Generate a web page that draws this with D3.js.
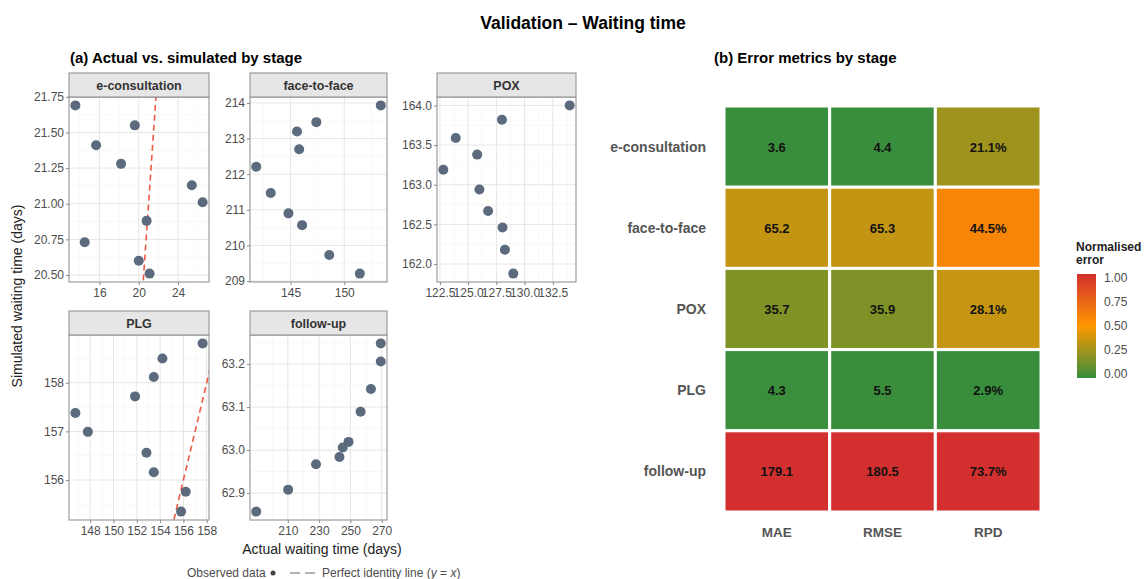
<html>
<head>
<title>Validation - Waiting time</title>
<script src="https://cdnjs.cloudflare.com/ajax/libs/d3/7.8.5/d3.min.js"></script>
<style>
  body { margin: 0; background: #fff; }
  text { font-family: "Liberation Sans", Arial, sans-serif; }
</style>
</head>
<body>
<svg id="chart" width="1145" height="579"></svg>
<script>
// ---- data ----
var stages = ["e-consultation", "face-to-face", "POX", "PLG", "follow-up"];

var actualEcons = [13.55, 15.66, 18.2, 19.6, 25.4, 26.5, 20.8, 14.5, 20.0, 21.1];
var simEcons    = [21.69, 21.41, 21.28, 21.55, 21.13, 21.01, 20.88, 20.73, 20.60, 20.51];
var actualF2f   = [141.8, 143.15, 144.8, 146.07, 145.6, 145.8, 147.4, 148.6, 151.45, 153.4];
var simF2f      = [212.21, 211.47, 210.9, 210.57, 213.2, 212.7, 213.46, 209.73, 209.21, 213.93];
var actualPox   = [122.8, 123.9, 125.8, 126.0, 126.77, 128.0, 128.05, 128.26, 129.0, 134.0];
var simPox      = [163.19, 163.59, 163.38, 162.94, 162.67, 163.82, 162.46, 162.18, 161.88, 164.0];
var actualPlg   = [146.73, 147.8, 151.85, 153.46, 154.2, 157.65, 152.83, 153.46, 156.2, 155.8];
var simPlg      = [157.38, 156.99, 157.72, 158.12, 158.5, 158.81, 156.56, 156.16, 155.76, 155.35];
var actualFup   = [189.8, 210.2, 228.0, 243.0, 245.1, 248.8, 256.5, 263.1, 269.4, 269.4];
var simFup      = [62.857, 62.908, 62.967, 62.984, 63.006, 63.019, 63.089, 63.142, 63.206, 63.248];

var xTicksEcons = [16, 20, 24],            yTicksEcons = [20.5, 20.75, 21, 21.25, 21.5, 21.75];
var xTicksF2f   = [145, 150],              yTicksF2f   = [209, 210, 211, 212, 213, 214];
var xTicksPox   = [122.5, 125, 127.5, 130, 132.5], yTicksPox = [162, 162.5, 163, 163.5, 164];
var xTicksPlg   = [148, 150, 152, 154, 156, 158], yTicksPlg = [156, 157, 158];
var xTicksFup   = [210, 230, 250, 270],    yTicksFup   = [62.9, 63.0, 63.1, 63.2];

var metrics = ["MAE", "RMSE", "RPD"];
var maeVals  = [3.6, 65.2, 35.7, 4.3, 179.1];
var rmseVals = [4.4, 65.3, 35.9, 5.5, 180.5];
var rpdVals  = [21.1, 44.5, 28.1, 2.9, 73.7];
var legendTicks = [0, 0.25, 0.5, 0.75, 1];

// ---- layout ----
var svg = d3.select('#chart');
var grey = '#4d4d4d';

svg.append('text').attr('x', 583).attr('y', 29).attr('text-anchor', 'middle')
    .style('font-size', '17.5px').style('font-weight', 'bold').text('Validation – Waiting time');
svg.append('text').attr('x', 70).attr('y', 63)
    .style('font-size', '15px').style('font-weight', 'bold').text('(a) Actual vs. simulated by stage');
svg.append('text').attr('x', 714).attr('y', 63)
    .style('font-size', '15px').style('font-weight', 'bold').text('(b) Error metrics by stage');

var panels = [
    { name: stages[0], x: actualEcons, y: simEcons, xt: xTicksEcons, yt: yTicksEcons, xf: 'd',   yf: '.2f', l: 69,  r: 209, top: 73 },
    { name: stages[1], x: actualF2f,   y: simF2f,   xt: xTicksF2f,   yt: yTicksF2f,   xf: 'd',   yf: 'd',   l: 250, r: 387, top: 73 },
    { name: stages[2], x: actualPox,   y: simPox,   xt: xTicksPox,   yt: yTicksPox,   xf: '.1f', yf: '.1f', l: 437, r: 576, top: 73 },
    { name: stages[3], x: actualPlg,   y: simPlg,   xt: xTicksPlg,   yt: yTicksPlg,   xf: 'd',   yf: 'd',   l: 69,  r: 209, top: 311 },
    { name: stages[4], x: actualFup,   y: simFup,   xt: xTicksFup,   yt: yTicksFup,   xf: 'd',   yf: '.1f', l: 250, r: 387, top: 311 }
];
var stripH = 24, panelH = 185;

// ggplot-like 5% expansion
function expand(vals) {
    var e = d3.extent(vals), pad = (e[1] - e[0]) * 0.05;
    return [e[0] - pad, e[1] + pad];
}
function minors(t) {
    var m = [];
    var step = t.length > 1 ? t[1] - t[0] : 1;
    m.push(t[0] - step / 2);
    t.forEach(function (v) { m.push(v + step / 2); });
    return m;
}

panels.forEach(function (p, i) {
    var pt = p.top + stripH, pb = pt + panelH;
    var xs = d3.scaleLinear().domain(expand(p.x)).range([p.l, p.r]);
    var ys = d3.scaleLinear().domain(expand(p.y)).range([pb, pt]);
    var g = svg.append('g');

    g.append('clipPath').attr('id', 'clip' + i).append('rect')
        .attr('x', p.l).attr('y', pt).attr('width', p.r - p.l).attr('height', panelH);

    // grid
    var mx = minors(p.xt).filter(function (v) { return v > xs.domain()[0] && v < xs.domain()[1]; });
    var my = minors(p.yt).filter(function (v) { return v > ys.domain()[0] && v < ys.domain()[1]; });
    g.selectAll('.mx').data(mx).enter().append('line')
        .attr('x1', xs).attr('x2', xs).attr('y1', pt).attr('y2', pb)
        .attr('stroke', '#f3f3f3').attr('stroke-width', 0.6);
    g.selectAll('.my').data(my).enter().append('line')
        .attr('y1', ys).attr('y2', ys).attr('x1', p.l).attr('x2', p.r)
        .attr('stroke', '#f3f3f3').attr('stroke-width', 0.6);
    g.selectAll('.gx').data(p.xt).enter().append('line')
        .attr('x1', xs).attr('x2', xs).attr('y1', pt).attr('y2', pb)
        .attr('stroke', '#e6e6e6').attr('stroke-width', 1);
    g.selectAll('.gy').data(p.yt).enter().append('line')
        .attr('y1', ys).attr('y2', ys).attr('x1', p.l).attr('x2', p.r)
        .attr('stroke', '#e6e6e6').attr('stroke-width', 1);

    // identity line
    var d = xs.domain().concat(ys.domain());
    var lo = d3.min(d), hi = d3.max(d);
    g.append('line').attr('clip-path', 'url(#clip' + i + ')')
        .attr('x1', xs(lo)).attr('y1', ys(lo)).attr('x2', xs(hi)).attr('y2', ys(hi))
        .attr('stroke', '#ef5a45').attr('stroke-width', 1.6).attr('stroke-dasharray', '6,4');

    // points
    g.selectAll('circle').data(p.x).enter().append('circle')
        .attr('cx', function (v) { return xs(v); })
        .attr('cy', function (v, j) { return ys(p.y[j]); })
        .attr('r', 5).attr('fill', '#5b6b7d');

    // border + strip
    g.append('rect').attr('x', p.l).attr('y', pt).attr('width', p.r - p.l).attr('height', panelH)
        .attr('fill', 'none').attr('stroke', '#8a8a8a').attr('stroke-width', 1);
    g.append('rect').attr('x', p.l).attr('y', p.top).attr('width', p.r - p.l).attr('height', stripH)
        .attr('fill', '#e6e6e6').attr('stroke', '#8a8a8a').attr('stroke-width', 1);
    g.append('text').attr('x', (p.l + p.r) / 2).attr('y', p.top + stripH / 2 + 4.5)
        .attr('text-anchor', 'middle').style('font-size', '12.5px').style('font-weight', 'bold')
        .attr('fill', '#333').text(p.name);

    // axes
    var xa = g.append('g').attr('transform', 'translate(0,' + pb + ')')
        .call(d3.axisBottom(xs).tickValues(p.xt).tickSize(3).tickFormat(d3.format(p.xf)));
    var ya = g.append('g').attr('transform', 'translate(' + p.l + ',0)')
        .call(d3.axisLeft(ys).tickValues(p.yt).tickSize(3).tickFormat(d3.format(p.yf)));
    [xa, ya].forEach(function (a) {
        a.select('.domain').remove();
        a.selectAll('line').attr('stroke', '#8a8a8a');
        a.selectAll('text').attr('fill', grey).style('font-size', '12px')
            .style('font-family', '"Liberation Sans", Arial, sans-serif');
    });
    ya.selectAll('text').attr('x', -5);
});

svg.append('text').attr('transform', 'translate(22,296) rotate(-90)').attr('text-anchor', 'middle')
    .style('font-size', '14px').attr('fill', '#222').text('Simulated waiting time (days)');
svg.append('text').attr('x', 322).attr('y', 554).attr('text-anchor', 'middle')
    .style('font-size', '14px').attr('fill', '#222').text('Actual waiting time (days)');

// bottom legend
var lg = svg.append('g');
lg.append('text').attr('x', 187).attr('y', 577).style('font-size', '12px').attr('fill', grey).text('Observed data');
lg.append('circle').attr('cx', 273).attr('cy', 573).attr('r', 2.5).attr('fill', '#444');
lg.append('line').attr('x1', 290).attr('x2', 316).attr('y1', 573).attr('y2', 573)
    .attr('stroke', '#666').attr('stroke-width', 1).attr('stroke-dasharray', '10,5');
var lt = lg.append('text').attr('x', 322).attr('y', 577).style('font-size', '12px').attr('fill', grey);
lt.append('tspan').text('Perfect identity line (');
lt.append('tspan').style('font-style', 'italic').text('y');
lt.append('tspan').text(' = ');
lt.append('tspan').style('font-style', 'italic').text('x');
lt.append('tspan').text(')');

// ---- heatmap ----
var metricVals = [maeVals, rmseVals, rpdVals];
var cells = [];
stages.forEach(function (s, r) {
    metrics.forEach(function (m, c) {
        var vals = metricVals[c];
        var e = d3.extent(vals);
        var v = vals[r];
        cells.push({ stage: s, metric: m, value: v, norm: (v - e[0]) / (e[1] - e[0]) });
    });
});

var hx = d3.scaleBand().domain(metrics).range([724, 1041]);
var hy = d3.scaleBand().domain(stages).range([106, 512]);
var color = d3.scaleLinear().domain([0, 0.5, 1]).range(['#388e3c', '#ff9800', '#d32f2f']).interpolate(d3.interpolateRgb);

var hm = svg.append('g');
hm.selectAll('rect').data(cells).enter().append('rect')
    .attr('x', function (d) { return hx(d.metric); })
    .attr('y', function (d) { return hy(d.stage); })
    .attr('width', hx.bandwidth()).attr('height', hy.bandwidth())
    .attr('fill', function (d) { return color(d.norm); })
    .attr('stroke', '#fff').attr('stroke-width', 3);
hm.selectAll('.val').data(cells).enter().append('text')
    .attr('x', function (d) { return hx(d.metric) + hx.bandwidth() / 2; })
    .attr('y', function (d) { return hy(d.stage) + hy.bandwidth() / 2 + 5; })
    .attr('text-anchor', 'middle').style('font-size', '13px').style('font-weight', 'bold').attr('fill', '#111')
    .text(function (d) { return d.metric === 'RPD' ? d.value.toFixed(1) + '%' : d.value.toFixed(1); });

hm.selectAll('.rl').data(stages).enter().append('text')
    .attr('x', 706).attr('y', function (s) { return hy(s) + hy.bandwidth() / 2 + 5; })
    .attr('text-anchor', 'end').style('font-size', '14px').style('font-weight', 'bold').attr('fill', '#555')
    .text(function (s) { return s; });
hm.selectAll('.cl').data(metrics).enter().append('text')
    .attr('x', function (m) { return hx(m) + hx.bandwidth() / 2; }).attr('y', 537)
    .attr('text-anchor', 'middle').style('font-size', '13.5px').style('font-weight', 'bold').attr('fill', '#555')
    .text(function (m) { return m; });

// colour bar
var defs = svg.append('defs');
var grad = defs.append('linearGradient').attr('id', 'cbar').attr('x1', 0).attr('y1', 1).attr('x2', 0).attr('y2', 0);
d3.range(0, 1.01, 0.1).forEach(function (t) {
    grad.append('stop').attr('offset', t).attr('stop-color', color(t));
});
var cy = d3.scaleLinear().domain([0, 1]).range([374, 278]);
svg.append('rect').attr('x', 1077).attr('y', 274).attr('width', 19).attr('height', 104).attr('fill', 'url(#cbar)');
svg.append('text').attr('x', 1076).attr('y', 251).style('font-size', '12px').style('font-weight', 'bold').attr('fill', '#222').text('Normalised');
svg.append('text').attr('x', 1076).attr('y', 264).style('font-size', '12px').style('font-weight', 'bold').attr('fill', '#222').text('error');
svg.selectAll('.lt').data(legendTicks).enter().append('text')
    .attr('x', 1104).attr('y', function (t) { return cy(t) + 4; })
    .style('font-size', '12px').attr('fill', grey)
    .text(function (t) { return t.toFixed(2); });
</script>
</body>
</html>
